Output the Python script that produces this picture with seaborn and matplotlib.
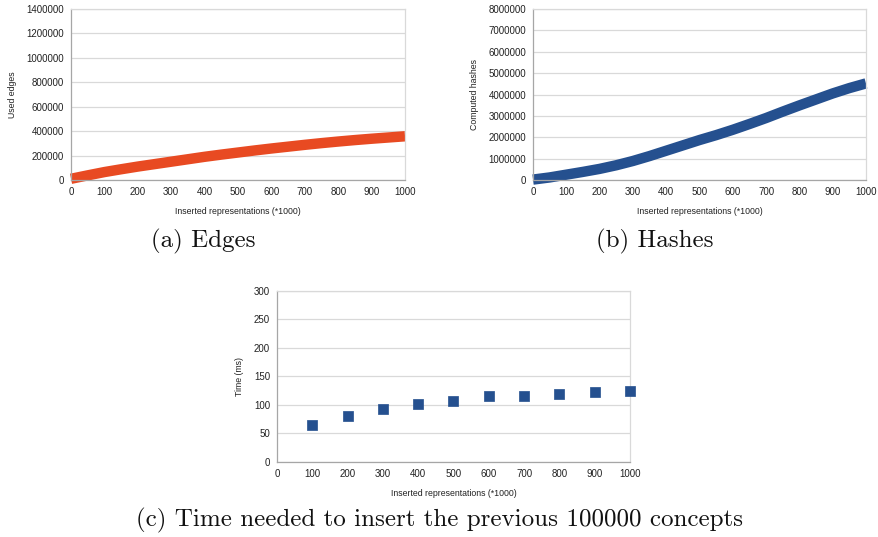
import matplotlib
matplotlib.use("Agg")
import matplotlib.pyplot as plt
from matplotlib.ticker import FuncFormatter
import seaborn as sns
import pandas as pd

# inserted representations (*1000)
inserted = [0, 50, 100, 150, 200, 250, 300, 350, 400, 450, 500,
            550, 600, 650, 700, 750, 800, 850, 900, 950, 1000]
used_edges = [10000, 38000, 65000, 88000, 110000, 130000, 150000, 170000, 190000, 208000, 225000,
              242000, 258000, 273000, 288000, 302000, 315000, 327000, 338000, 348000, 358000]
computed_hashes = [20000, 120000, 250000, 380000, 520000, 690000, 890000, 1120000, 1370000, 1620000, 1870000,
                   2100000, 2350000, 2620000, 2900000, 3200000, 3490000, 3770000, 4050000, 4300000, 4520000]

time_x = [100, 200, 300, 400, 500, 600, 700, 800, 900, 1000]
time_ms = [65, 80, 93, 102, 107, 115, 116, 119, 122, 125]

ORANGE = "#e84a22"
BLUE = "#25508f"

sns.set_style("white")
plt.rcParams['font.family'] = ['Liberation Sans', 'DejaVu Sans']


def style_axes(ax, ymax, ystep, ylabel):
    ax.set_xlim(0, 1000)
    ax.set_ylim(0, ymax)
    ax.set_xticks(range(0, 1001, 100))
    ax.set_yticks(range(0, ymax + 1, ystep))
    ax.yaxis.set_major_formatter(FuncFormatter(lambda v, p: f"{int(round(v))}"))
    ax.grid(axis="y", color="#d9d9d9", linewidth=0.9)
    ax.set_axisbelow(True)
    for side in ["top", "right"]:
        ax.spines[side].set_color("#d9d9d9")
        ax.spines[side].set_linewidth(0.9)
    for side in ["left", "bottom"]:
        ax.spines[side].set_color("#a6a6a6")
        ax.spines[side].set_linewidth(0.9)
    ax.tick_params(axis="both", labelsize=7, colors="#a6a6a6", labelcolor="#222222",
                   length=3, width=0.8, direction="out", pad=2)
    ax.set_xlabel("Inserted representations (*1000)", fontsize=6.3, color="#222222", labelpad=7)
    ax.set_ylabel(ylabel, fontsize=6.3, color="#222222", labelpad=7)


fig = plt.figure(figsize=(8.79, 5.37), dpi=100)
ax_a = fig.add_axes([0.0808, 0.6648, 0.380, 0.3184])
ax_b = fig.add_axes([0.6064, 0.6648, 0.3788, 0.3184])
ax_c = fig.add_axes([0.3151, 0.1397, 0.4016, 0.3184])

df = pd.DataFrame({"x": inserted, "edges": used_edges, "hashes": computed_hashes})
sns.lineplot(data=df, x="x", y="edges", ax=ax_a, color=ORANGE, linewidth=7.5,
             solid_capstyle="butt", clip_on=False)
style_axes(ax_a, 1400000, 200000, "Used edges")

sns.lineplot(data=df, x="x", y="hashes", ax=ax_b, color=BLUE, linewidth=7.5,
             solid_capstyle="butt", clip_on=False)
style_axes(ax_b, 8000000, 1000000, "Computed hashes")

dt = pd.DataFrame({"x": time_x, "t": time_ms})
sns.scatterplot(data=dt, x="x", y="t", ax=ax_c, color=BLUE, marker="s", s=45,
                edgecolor=BLUE, linewidth=0.5, clip_on=False, zorder=3)
style_axes(ax_c, 300, 50, "Time (ms)")

cap = dict(fontfamily="cmr10", fontsize=18, color="#111111", ha="center", va="center")
fig.text(203 / 879, 1 - 241 / 537, "(a) Edges", **cap)
fig.text(655 / 879, 1 - 241 / 537, "(b) Hashes", **cap)
fig.text(440 / 879, 1 - 520 / 537, "(c) Time needed to insert the previous 100000 concepts", **cap)

fig.savefig("out.png", dpi=100)
